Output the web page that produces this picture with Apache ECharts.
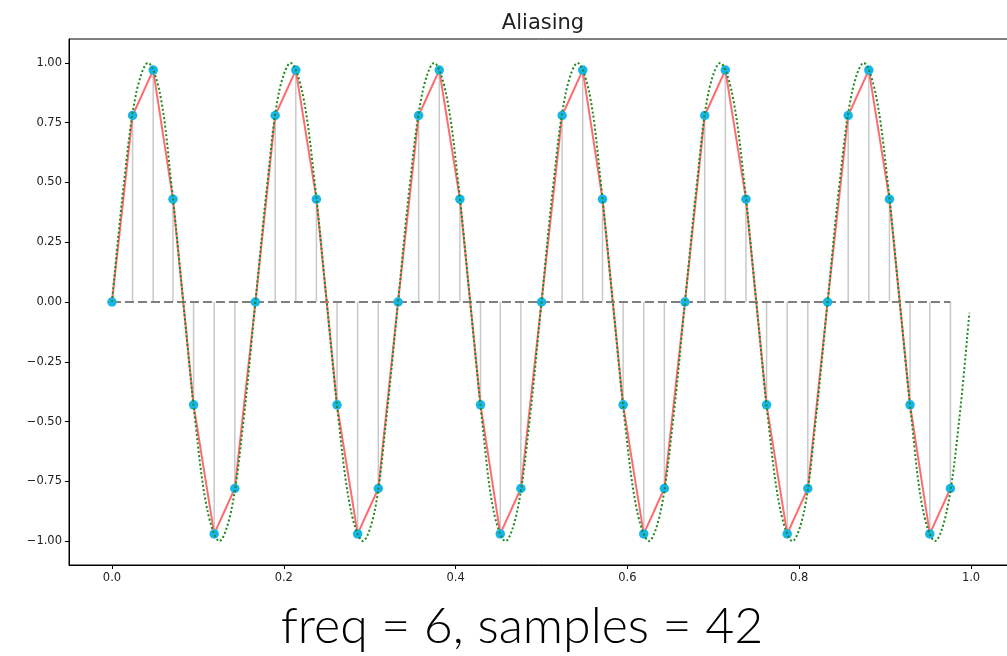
<!DOCTYPE html>
<html>
<head>
<meta charset="utf-8">
<script src="https://cdn.jsdelivr.net/npm/echarts@6/dist/echarts.min.js"></script>
<style>html,body{margin:0;padding:0;background:#fff;}#chart{width:1007px;height:656px;}</style>
</head>
<body>
<div id="chart"></div>
<script>
// Sampled points (x, value)
const sampleX = [0.000, 0.024, 0.048, 0.071, 0.095, 0.119, 0.143,
                 0.167, 0.190, 0.214, 0.238, 0.262, 0.286, 0.310,
                 0.333, 0.357, 0.381, 0.405, 0.429, 0.452, 0.476,
                 0.500, 0.524, 0.548, 0.571, 0.595, 0.619, 0.643,
                 0.667, 0.690, 0.714, 0.738, 0.762, 0.786, 0.810,
                 0.833, 0.857, 0.881, 0.905, 0.929, 0.952, 0.976];
const sampleY = [0, 0.78, 0.97, 0.43, -0.43, -0.97, -0.78,
                 0, 0.78, 0.97, 0.43, -0.43, -0.97, -0.78,
                 0, 0.78, 0.97, 0.43, -0.43, -0.97, -0.78,
                 0, 0.78, 0.97, 0.43, -0.43, -0.97, -0.78,
                 0, 0.78, 0.97, 0.43, -0.43, -0.97, -0.78,
                 0, 0.78, 0.97, 0.43, -0.43, -0.97, -0.78];
// Continuous (dotted) curve points
const curveX = [0.000, 0.014, 0.028, 0.042, 0.056, 0.069, 0.083, 0.097, 0.111, 0.125, 0.139, 0.153,
                0.167, 0.181, 0.194, 0.208, 0.222, 0.236, 0.250, 0.264, 0.278, 0.292, 0.306, 0.319,
                0.333, 0.347, 0.361, 0.375, 0.389, 0.403, 0.417, 0.431, 0.444, 0.458, 0.472, 0.486,
                0.500, 0.514, 0.528, 0.542, 0.556, 0.569, 0.583, 0.597, 0.611, 0.625, 0.639, 0.653,
                0.667, 0.681, 0.694, 0.708, 0.722, 0.736, 0.750, 0.764, 0.778, 0.792, 0.806, 0.819,
                0.833, 0.847, 0.861, 0.875, 0.889, 0.903, 0.917, 0.931, 0.944, 0.958, 0.972, 0.986,
                0.998];
const curveY = [0, 0.5, 0.87, 1, 0.87, 0.5, 0, -0.5, -0.87, -1, -0.87, -0.5,
                0, 0.5, 0.87, 1, 0.87, 0.5, 0, -0.5, -0.87, -1, -0.87, -0.5,
                0, 0.5, 0.87, 1, 0.87, 0.5, 0, -0.5, -0.87, -1, -0.87, -0.5,
                0, 0.5, 0.87, 1, 0.87, 0.5, 0, -0.5, -0.87, -1, -0.87, -0.5,
                0, 0.5, 0.87, 1, 0.87, 0.5, 0, -0.5, -0.87, -1, -0.87, -0.5,
                0, 0.5, 0.87, 1, 0.87, 0.5, 0, -0.5, -0.87, -1, -0.87, -0.5,
                -0.045];
const xTicks = [0.0, 0.2, 0.4, 0.6, 0.8, 1.0];
const yTicks = [-1.00, -0.75, -0.50, -0.25, 0.00, 0.25, 0.50, 0.75, 1.00];
const titleText = 'Aliasing';
const captionText = 'freq = 6, samples = 42';

const samples = sampleX.map((x, i) => [x, sampleY[i]]);
const curve = curveX.map((x, i) => [x, curveY[i]]);
const baseline = [[sampleX[0], 0], [sampleX[sampleX.length - 1], 0]];
const fmtNum = (v, d) => (v < 0 ? '\u2212' : '') + Math.abs(v).toFixed(d);

const chart = echarts.init(document.getElementById('chart'), null, {renderer: 'canvas'});
chart.setOption({
  animation: false,
  backgroundColor: '#fff',
  title: [
    {text: titleText, left: 538, top: 8, textAlign: 'center',
     textStyle: {fontFamily: 'DejaVu Sans', fontSize: 21, fontWeight: 'normal', color: '#222'}},
    {text: captionText, left: 517, top: 597, textAlign: 'center',
     textStyle: {fontFamily: 'Lato', fontSize: 50, fontWeight: 300, color: '#000'}}
  ],
  grid: {left: 69, top: 39, width: 945, height: 526, show: true, borderColor: '#000', borderWidth: 1,
         containLabel: false, outerBoundsMode: 'none'},
  xAxis: {
    type: 'value', min: -0.05, max: 1.05,
    axisLine: {show: true, onZero: false, lineStyle: {color: '#000', width: 1}},
    splitLine: {show: false},
    axisTick: {show: true, length: 4, customValues: xTicks, lineStyle: {color: '#000'}},
    axisLabel: {customValues: xTicks, formatter: v => fmtNum(v, 1), fontFamily: 'DejaVu Sans', fontSize: 11.5, color: '#222', margin: 7}
  },
  yAxis: {
    type: 'value', min: -1.1, max: 1.1,
    axisLine: {show: true, onZero: false, lineStyle: {color: '#000', width: 1}},
    splitLine: {show: false},
    axisTick: {show: true, length: 4, customValues: yTicks, lineStyle: {color: '#000'}},
    axisLabel: {customValues: yTicks, formatter: v => fmtNum(v, 2), fontFamily: 'DejaVu Sans', fontSize: 11.5, color: '#222', margin: 7}
  },
  series: [
    {
      type: 'custom', name: 'stems', z: 1,
      data: samples,
      renderItem: (params, api) => {
        const p0 = api.coord([api.value(0), 0]);
        const p1 = api.coord([api.value(0), api.value(1)]);
        return {type: 'line', shape: {x1: p0[0], y1: p0[1], x2: p1[0], y2: p1[1]},
                style: {stroke: '#c8c8c8', lineWidth: 1.5}};
      },
      silent: true
    },
    {
      type: 'line', name: 'baseline', z: 2, data: baseline, symbol: 'none',
      lineStyle: {color: '#7f7f7f', width: 2, type: [9, 4]}, silent: true
    },
    {
      type: 'line', name: 'samples', z: 3, data: samples,
      symbol: 'circle', symbolSize: 9.5,
      itemStyle: {color: '#16b5ea', borderWidth: 0},
      lineStyle: {color: '#ff6b6e', width: 2}, silent: true
    },
    {
      type: 'line', name: 'signal', z: 5, data: curve, symbol: 'none', smooth: 0.35,
      lineStyle: {color: '#1a8a1a', width: 2, type: [2, 2.3]}, silent: true
    }
  ]
});
</script>
</body>
</html>
